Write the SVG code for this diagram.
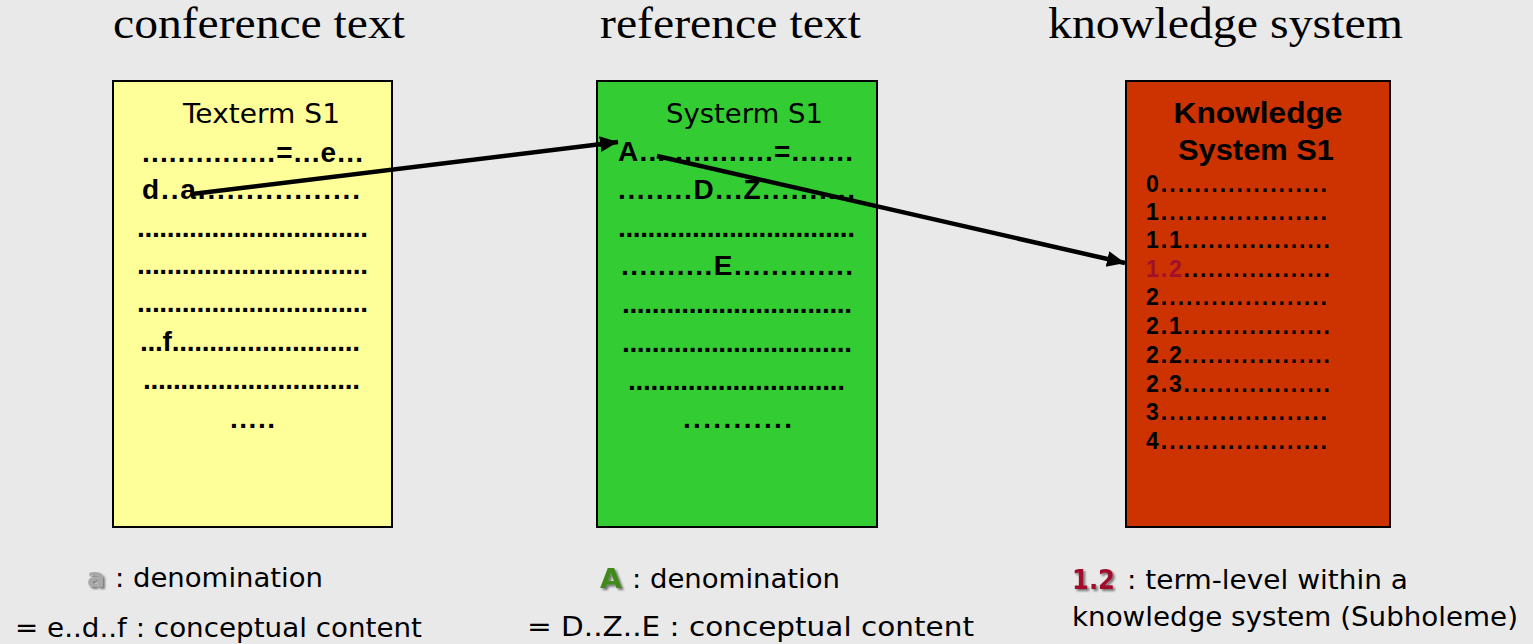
<svg xmlns="http://www.w3.org/2000/svg" width="1533" height="644" viewBox="0 0 1533 644">
<style>
.title{font-family:"Liberation Serif","Times New Roman",serif;font-size:45px;fill:#000}
.head{font-family:"DejaVu Sans","Liberation Sans",sans-serif;font-size:27px;fill:#000}
.row{font-family:"Liberation Sans",Arial,sans-serif;font-size:28px;font-weight:bold;fill:#000}
.khead{font-family:"Liberation Sans",Arial,sans-serif;font-size:30px;font-weight:bold;fill:#000}
.item{font-family:"Liberation Sans",Arial,sans-serif;font-size:23px;font-weight:bold;fill:#000}
.lab{font-family:"DejaVu Sans","Liberation Sans",sans-serif;font-size:26px;fill:#000}
.sa{fill:#a8a8a8;font-weight:bold}
.sA{fill:#3f8a1c;font-weight:bold}
.s12{fill:#a0102c;font-weight:bold}
.box{stroke:#000;stroke-width:2}
.conn{stroke:#000;stroke-width:4.5;fill:none}
</style>
<defs>
<marker id="ah" markerUnits="userSpaceOnUse" markerWidth="20" markerHeight="18" refX="18" refY="8" orient="auto">
<path d="M0,0 L18,8 L0,16 Z" fill="#000"/>
</marker>
<filter id="sh" x="-20%" y="-20%" width="150%" height="150%">
<feGaussianBlur in="SourceAlpha" stdDeviation="1"/>
<feOffset dx="1.5" dy="1.5"/>
<feComponentTransfer><feFuncA type="linear" slope="0.5"/></feComponentTransfer>
<feMerge><feMergeNode/><feMergeNode in="SourceGraphic"/></feMerge>
</filter>
</defs>
<rect width="1533" height="644" fill="#e9e9e9"/>

<g id="titles">
<text class="title" x="113" y="38" textLength="292" lengthAdjust="spacingAndGlyphs">conference text</text>
<text class="title" x="600" y="38" textLength="261" lengthAdjust="spacingAndGlyphs">reference text</text>
<text class="title" x="1048" y="38" textLength="355" lengthAdjust="spacingAndGlyphs">knowledge system</text>
</g>

<g id="conference-box">
<rect class="box" x="113" y="81" width="279" height="446" fill="#ffff99"/>
<text class="head" x="183" y="123" textLength="157" lengthAdjust="spacingAndGlyphs">Texterm S1</text>
<text class="row" x="142" y="162" textLength="221" lengthAdjust="spacing">...............=...e...</text>
<text class="row" x="142" y="199" textLength="218" lengthAdjust="spacing">d..a.................</text>
<text class="row" x="137" y="237" textLength="231" lengthAdjust="spacing">...............................</text>
<text class="row" x="137" y="274" textLength="231" lengthAdjust="spacing">...............................</text>
<text class="row" x="137" y="312" textLength="231" lengthAdjust="spacing">...............................</text>
<text class="row" x="140" y="351" textLength="220" lengthAdjust="spacing">...f.........................</text>
<text class="row" x="143" y="389" textLength="217" lengthAdjust="spacing">.............................</text>
<text class="row" x="230" y="428" textLength="45" lengthAdjust="spacing">.....</text>
</g>

<g id="reference-box">
<rect class="box" x="597" y="81" width="280" height="446" fill="#33cc33"/>
<text class="head" x="666" y="123" textLength="157" lengthAdjust="spacingAndGlyphs">Systerm S1</text>
<text class="row" x="618" y="161" textLength="235" lengthAdjust="spacing">A...............=.......</text>
<text class="row" x="618" y="199" textLength="237" lengthAdjust="spacing">........D...Z..........</text>
<text class="row" x="618" y="237" textLength="237" lengthAdjust="spacing">................................</text>
<text class="row" x="621" y="275" textLength="232" lengthAdjust="spacing">..........E.............</text>
<text class="row" x="622" y="313" textLength="230" lengthAdjust="spacing">...............................</text>
<text class="row" x="622" y="352" textLength="230" lengthAdjust="spacing">...............................</text>
<text class="row" x="628" y="390" textLength="217" lengthAdjust="spacing">.............................</text>
<text class="row" x="683" y="428" textLength="109" lengthAdjust="spacing">...........</text>
</g>

<g id="knowledge-box">
<rect class="box" x="1126" y="81" width="264" height="446" fill="#cc3300"/>
<text class="khead" x="1258" y="123" text-anchor="middle" textLength="169" lengthAdjust="spacingAndGlyphs">Knowledge</text>
<text class="khead" x="1256" y="160" text-anchor="middle" textLength="156" lengthAdjust="spacingAndGlyphs">System S1</text>
<text class="item" x="1146" y="192" textLength="181" lengthAdjust="spacing">0....................</text>
<text class="item" x="1146" y="220" textLength="181" lengthAdjust="spacing">1....................</text>
<text class="item" x="1146" y="248" textLength="184" lengthAdjust="spacing">1.1..................</text>
<text class="item" x="1146" y="277" textLength="184" lengthAdjust="spacing"><tspan style="fill:#a0102c">1.2</tspan>..................</text>
<text class="item" x="1146" y="305" textLength="181" lengthAdjust="spacing">2....................</text>
<text class="item" x="1146" y="334" textLength="184" lengthAdjust="spacing">2.1..................</text>
<text class="item" x="1146" y="363" textLength="184" lengthAdjust="spacing">2.2..................</text>
<text class="item" x="1146" y="392" textLength="184" lengthAdjust="spacing">2.3..................</text>
<text class="item" x="1146" y="420" textLength="181" lengthAdjust="spacing">3....................</text>
<text class="item" x="1146" y="449" textLength="181" lengthAdjust="spacing">4....................</text>
</g>

<g id="connectors">
<line class="conn" x1="192" y1="194" x2="618" y2="142" marker-end="url(#ah)"/>
<line class="conn" x1="657" y1="156" x2="1125" y2="263" marker-end="url(#ah)"/>
</g>

<g id="legend-conference">
<text class="lab sa" x="87" y="587" filter="url(#sh)" textLength="18" lengthAdjust="spacingAndGlyphs">a</text>
<text class="lab" x="115" y="587" textLength="208" lengthAdjust="spacingAndGlyphs">: denomination</text>
<text class="lab" x="15" y="637" textLength="407" lengthAdjust="spacingAndGlyphs">= e..d..f : conceptual content</text>
</g>

<g id="legend-reference">
<text class="lab sA" x="600" y="588" filter="url(#sh)" textLength="22" lengthAdjust="spacingAndGlyphs">A</text>
<text class="lab" x="632" y="588" textLength="208" lengthAdjust="spacingAndGlyphs">: denomination</text>
<text class="lab" x="527" y="636" textLength="447" lengthAdjust="spacingAndGlyphs">= D..Z..E : conceptual   content</text>
</g>

<g id="legend-knowledge">
<text class="lab s12" x="1072" y="589" filter="url(#sh)" textLength="43" lengthAdjust="spacingAndGlyphs">1.2</text>
<text class="lab" x="1127" y="589" textLength="281" lengthAdjust="spacingAndGlyphs">: term-level within a</text>
<text class="lab" x="1072" y="626" textLength="446" lengthAdjust="spacingAndGlyphs">knowledge system (Subholeme)</text>
</g>
</svg>
